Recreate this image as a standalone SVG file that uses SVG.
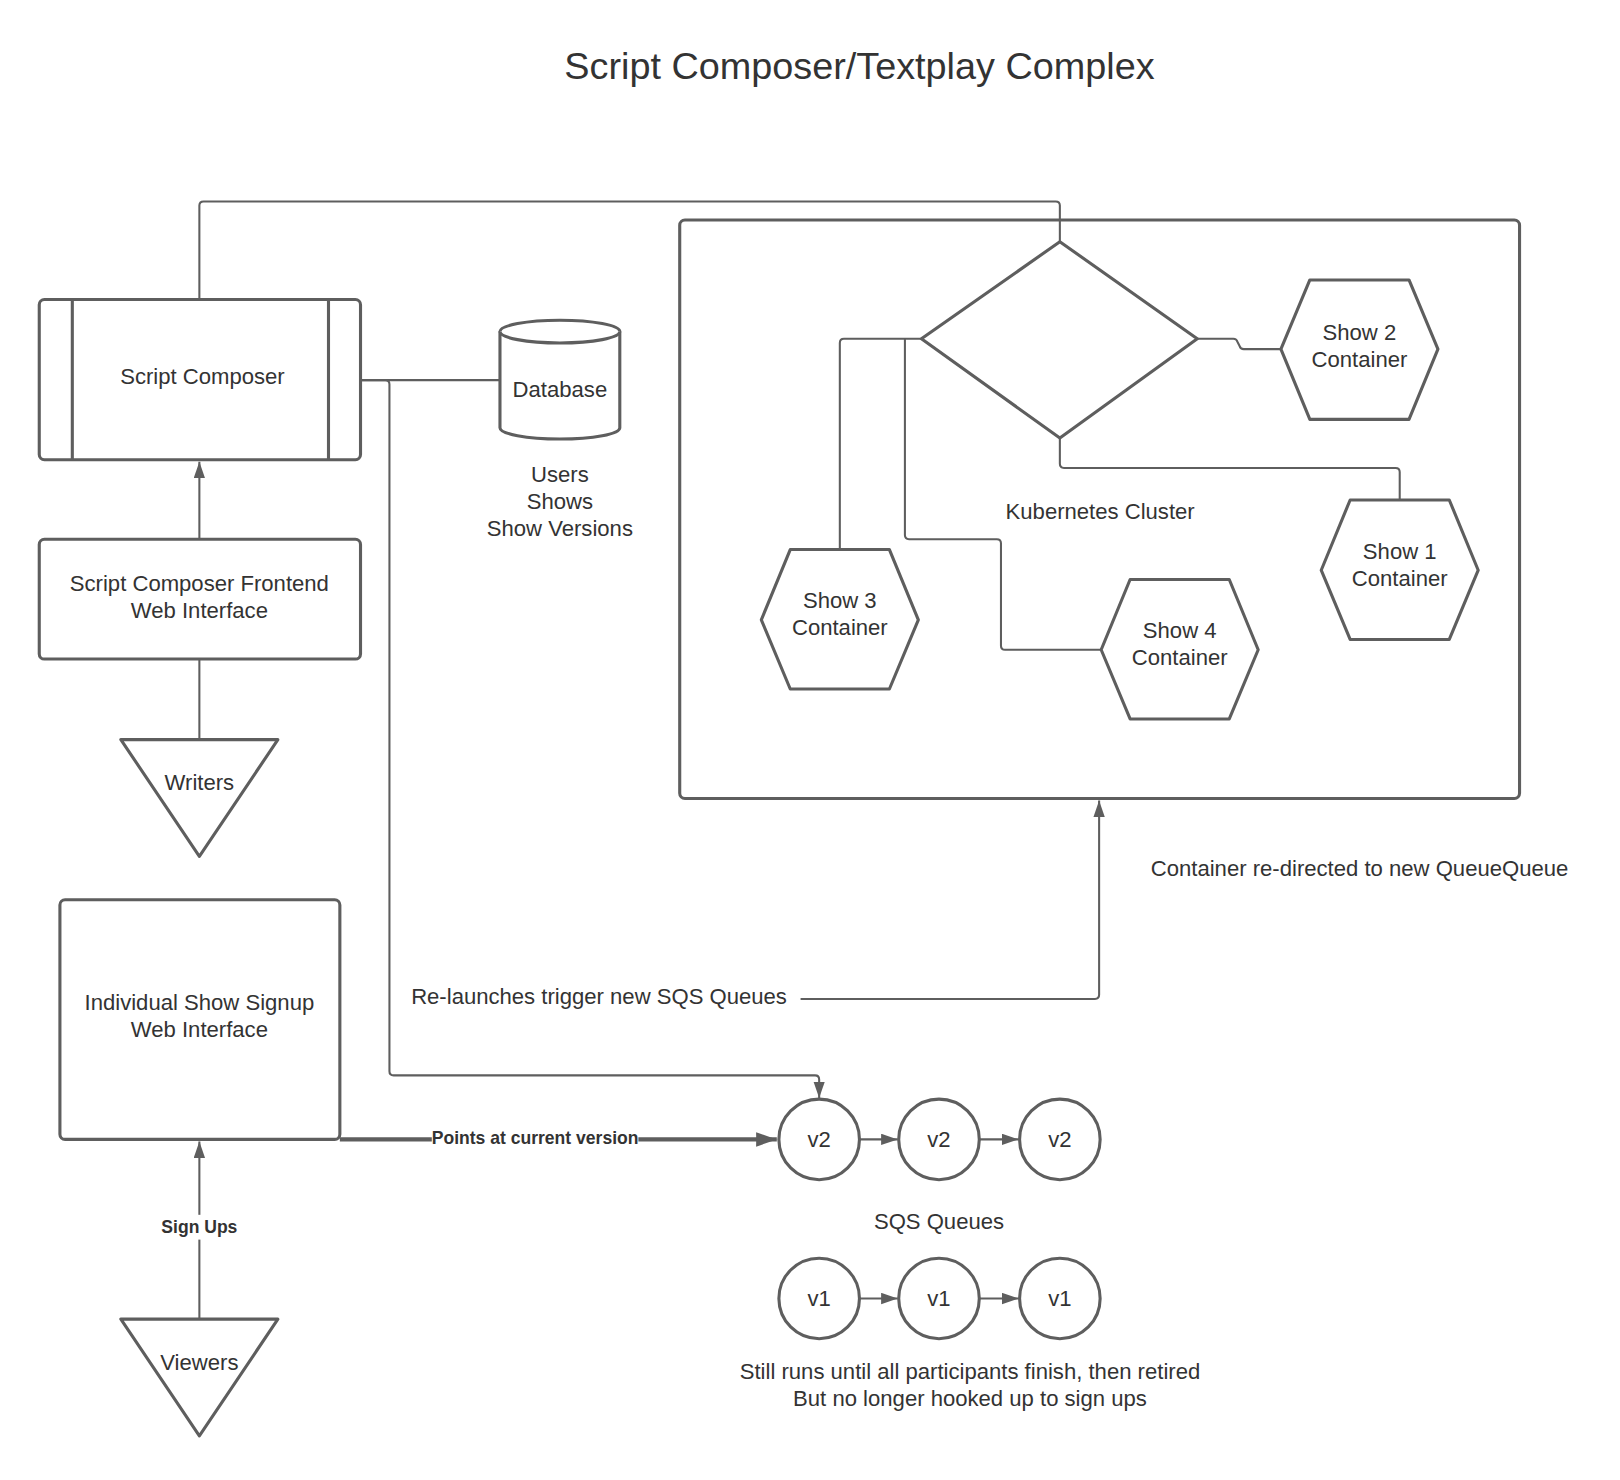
<svg xmlns="http://www.w3.org/2000/svg" width="1620" height="1480" viewBox="0 0 1620 1480">
<defs>
<style>
.shape{fill:#ffffff;stroke:#5e5e5e;stroke-width:3;stroke-linejoin:round}
.line{fill:none;stroke:#5e5e5e;stroke-width:2;stroke-linejoin:round}
.thick{fill:none;stroke:#5e5e5e;stroke-width:4}
.t{font-family:"Liberation Sans",Arial,sans-serif;font-size:21.4px;fill:#333333;text-anchor:middle}
.ts{font-family:"Liberation Sans",Arial,sans-serif;font-size:21.4px;fill:#333333;text-anchor:start}
.lb{font-family:"Liberation Sans",Arial,sans-serif;font-size:17px;font-weight:bold;fill:#333333;text-anchor:middle}
.title{font-family:"Liberation Sans",Arial,sans-serif;font-size:36.6px;fill:#333333;text-anchor:middle}
</style>
<marker id="arr" markerUnits="userSpaceOnUse" markerWidth="18" markerHeight="12" refX="16" refY="5.5" orient="auto" viewBox="0 0 18 12">
<path d="M0,0 L16,5.5 L0,11 Z" fill="#5e5e5e"/>
</marker>
<marker id="arrBig" markerUnits="userSpaceOnUse" markerWidth="22" markerHeight="16" refX="20" refY="7" orient="auto" viewBox="0 0 22 16">
<path d="M0,0 L20,7 L0,14 Z" fill="#5e5e5e"/>
</marker>
</defs>
<rect width="1620" height="1480" fill="#ffffff"/>
<g transform="scale(1.033)">
<text class="title" x="832" y="76">Script Composer/Textplay Complex</text>

<g id="k8s-cluster">
<rect class="shape" x="658" y="213" width="813" height="560" rx="5"/>
<text class="t" x="1065" y="502">Kubernetes Cluster</text>
</g>

<g id="connectors">
<path class="line" d="M193,290 V199 Q193,195 197,195 H1022 Q1026,195 1026,199 V234"/>
<path class="line" d="M193,522 V447" marker-end="url(#arr)"/>
<path class="line" d="M193,716 V638"/>
<path class="line" d="M349,368 H484"/>
<path class="line" d="M349,368 H373 Q377,368 377,372 V1037 Q377,1041 381,1041 H789 Q793,1041 793,1045 V1063" marker-end="url(#arr)"/>
<path class="line" d="M1159,328 H1194 Q1197,328 1198,331 L1200,335 Q1201,338 1204,338 H1240"/>
<path class="line" d="M1026,424 V449 Q1026,453 1030,453 H1351 Q1355,453 1355,457 V484"/>
<path class="line" d="M892,328 H817 Q813,328 813,332 V532"/>
<path class="line" d="M876,328 V518 Q876,522 880,522 H965 Q969,522 969,526 V625 Q969,629 973,629 H1066"/>
<path class="line" d="M775,967 H1060 Q1064,967 1064,963 V775" marker-end="url(#arr)"/>
<path class="thick" d="M329,1103 H752" marker-end="url(#arrBig)"/>
<path class="line" d="M193,1277 V1105" marker-end="url(#arr)"/>
<path class="line" d="M832,1103 H869" marker-end="url(#arr)"/>
<path class="line" d="M948,1103 H986" marker-end="url(#arr)"/>
<path class="line" d="M832,1257 H869" marker-end="url(#arr)"/>
<path class="line" d="M948,1257 H986" marker-end="url(#arr)"/>
<rect x="418" y="1090" width="200" height="22" fill="#ffffff"/>
<text class="lb" x="518" y="1107">Points at current version</text>
<rect x="155" y="1176" width="76" height="24" fill="#ffffff"/>
<text class="lb" x="193" y="1194">Sign Ups</text>
<text class="ts" x="398" y="972">Re-launches trigger new SQS Queues</text>
<text class="ts" x="1114" y="848">Container re-directed to new QueueQueue</text>
</g>

<g id="script-composer">
<rect class="shape" x="38" y="290" width="311" height="155" rx="5"/>
<line class="shape" x1="70" y1="290" x2="70" y2="445"/>
<line class="shape" x1="318" y1="290" x2="318" y2="445"/>
<text class="t" x="196" y="372">Script Composer</text>
</g>

<g id="frontend">
<rect class="shape" x="38" y="522" width="311" height="116" rx="5"/>
<text class="t" x="193" y="572">Script Composer Frontend</text>
<text class="t" x="193" y="598">Web Interface</text>
</g>

<g id="writers">
<path class="shape" d="M117,716 H269 L193,829 Z"/>
<text class="t" x="193" y="765">Writers</text>
</g>

<g id="database">
<path class="shape" d="M484,321 A58,11 0 0 1 600,321 V414 A58,11 0 0 1 484,414 Z"/>
<path class="shape" fill="none" d="M484,321 A58,11 0 0 0 600,321"/>
<text class="t" x="542" y="384">Database</text>
<text class="t" x="542" y="467">Users</text>
<text class="t" x="542" y="493">Shows</text>
<text class="t" x="542" y="519">Show Versions</text>
</g>

<g id="router">
<path class="shape" d="M1026,234 L1159,328 L1026,424 L892,328 Z"/>
</g>

<g id="show2">
<path class="shape" d="M1268,271 H1364 L1392,338 L1364,406 H1268 L1240,338 Z"/>
<text class="t" x="1316" y="329">Show 2</text>
<text class="t" x="1316" y="355">Container</text>
</g>

<g id="show1">
<path class="shape" d="M1307,484 H1403 L1431,552 L1403,619 H1307 L1279,552 Z"/>
<text class="t" x="1355" y="541">Show 1</text>
<text class="t" x="1355" y="567">Container</text>
</g>

<g id="show3">
<path class="shape" d="M765,532 H861 L889,600 L861,667 H765 L737,600 Z"/>
<text class="t" x="813" y="589">Show 3</text>
<text class="t" x="813" y="615">Container</text>
</g>

<g id="show4">
<path class="shape" d="M1094,561 H1190 L1218,629 L1190,696 H1094 L1066,629 Z"/>
<text class="t" x="1142" y="618">Show 4</text>
<text class="t" x="1142" y="644">Container</text>
</g>

<g id="signup">
<rect class="shape" x="58" y="871" width="271" height="232" rx="5"/>
<text class="t" x="193" y="978">Individual Show Signup</text>
<text class="t" x="193" y="1004">Web Interface</text>
</g>

<g id="viewers">
<path class="shape" d="M117,1277 H269 L193,1390 Z"/>
<text class="t" x="193" y="1326">Viewers</text>
</g>

<g id="v2-queues">
<circle class="shape" cx="793" cy="1103" r="39"/>
<text class="t" x="793" y="1110">v2</text>
<circle class="shape" cx="909" cy="1103" r="39"/>
<text class="t" x="909" y="1110">v2</text>
<circle class="shape" cx="1026" cy="1103" r="39"/>
<text class="t" x="1026" y="1110">v2</text>
<text class="t" x="909" y="1190">SQS Queues</text>
</g>

<g id="v1-queues">
<circle class="shape" cx="793" cy="1257" r="39"/>
<text class="t" x="793" y="1264">v1</text>
<circle class="shape" cx="909" cy="1257" r="39"/>
<text class="t" x="909" y="1264">v1</text>
<circle class="shape" cx="1026" cy="1257" r="39"/>
<text class="t" x="1026" y="1264">v1</text>
<text class="t" x="939" y="1335">Still runs until all participants finish, then retired</text>
<text class="t" x="939" y="1361">But no longer hooked up to sign ups</text>
</g>
</g>
</svg>
